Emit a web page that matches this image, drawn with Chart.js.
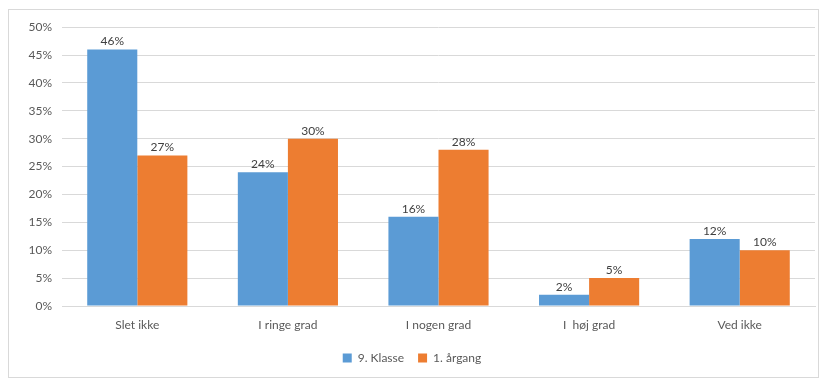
<!DOCTYPE html>
<html>
<head>
<meta charset="utf-8">
<script src="https://cdn.jsdelivr.net/npm/chart.js@4"></script>
<style>
  body { margin: 0; background: #fff; }
  #wrap { position: absolute; left: 8px; top: 9px; width: 809px; height: 367px; border: 1px solid #d9d9d9; }
</style>
</head>
<body>
<div id="wrap"><canvas id="chart"></canvas></div>
<script>
const categories = ['Slet ikke', 'I ringe grad', 'I nogen grad', 'I  høj grad', 'Ved ikke'];
const klasse9 = [46, 24, 16, 2, 12];
const aargang1 = [27, 30, 28, 5, 10];
const seriesNames = ['9. Klasse', '1. årgang'];
const seriesColors = ['#5b9bd5', '#ed7d31'];

// percent labels above bars
const barLabels = {
    id: 'barLabels',
    afterDatasetsDraw(chart) {
        const ctx = chart.ctx;
        ctx.save();
        ctx.font = '12px Lato, "Open Sans", sans-serif';
        ctx.fillStyle = '#404040';
        ctx.textAlign = 'center';
        ctx.textBaseline = 'bottom';
        chart.data.datasets.forEach((ds, i) => {
            chart.getDatasetMeta(i).data.forEach((bar, j) => {
                ctx.fillText(ds.data[j] + '%', bar.x, bar.y - 2);
            });
        });
        ctx.restore();
    }
};

new Chart(document.getElementById('chart'), {
    type: 'bar',
    data: {
        labels: categories,
        datasets: [
            { label: seriesNames[0], data: klasse9, backgroundColor: seriesColors[0] },
            { label: seriesNames[1], data: aargang1, backgroundColor: seriesColors[1] }
        ]
    },
    options: {
        responsive: true,
        maintainAspectRatio: false,
        animation: false,
        categoryPercentage: 0.665,
        barPercentage: 1.0,
        layout: { padding: { top: 12, right: 3, left: 0, bottom: 3 } },
        plugins: {
            legend: {
                position: 'bottom',
                labels: {
                    boxWidth: 9,
                    boxHeight: 9,
                    color: '#595959',
                    font: { family: 'Lato, "Open Sans", sans-serif', size: 12 },
                    padding: 14
                }
            },
            tooltip: { enabled: false }
        },
        scales: {
            x: {
                grid: { display: false },
                border: { color: '#d9d9d9' },
                afterFit(scale) { scale.height = 32; },
                ticks: {
                    color: '#595959',
                    font: { family: 'Lato, "Open Sans", sans-serif', size: 12 },
                    padding: 4
                }
            },
            y: {
                min: 0,
                max: 50,
                border: { display: false },
                grid: { color: '#d9d9d9', drawTicks: false },
                afterFit(scale) { scale.width = 53; },
                ticks: {
                    stepSize: 5,
                    color: '#595959',
                    padding: 10,
                    font: { family: 'Lato, "Open Sans", sans-serif', size: 12 },
                    callback: v => v + '%'
                }
            }
        }
    },
    plugins: [barLabels]
});
</script>
</body>
</html>
